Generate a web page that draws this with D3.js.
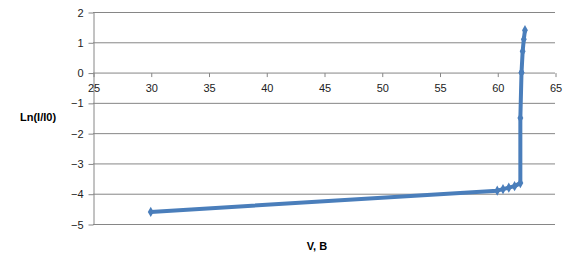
<!DOCTYPE html>
<meta charset="utf-8">
<style>
body { margin: 0; background: #fff; }
text { font-family: "Liberation Sans", Arial, sans-serif; font-size: 11px; fill: #222; }
.grid line { stroke: #868686; stroke-width: 1; }
.title { font-weight: bold; fill: #000; }
</style>
<svg width="574" height="273"></svg>
<script src="https://d3js.org/d3.v7.min.js"></script>
<script>
// voltage (V) and ln(I/I0) values
var volts = [30, 60, 60.5, 61, 61.5, 62, 62, 62.1, 62.1, 62.2, 62.3, 62.4];
var lnI   = [-4.6, -3.9, -3.85, -3.8, -3.75, -3.65, -1.5, -0.0, 0.0, 0.7, 1.1, 1.4];
var xTicks = [25, 30, 35, 40, 45, 50, 55, 60, 65];
var yTicks = [2, 1, 0, -1, -2, -3, -4, -5];

var svg = d3.select("svg");

var x = d3.scaleLinear().domain([25, 65]).range([93, 555]),
    y = d3.scaleLinear().domain([-5, 2]).range([224, 12]);

/* horizontal gridlines */
svg.append("g").attr("class", "grid")
  .selectAll("line").data(yTicks).enter().append("line")
    .attr("x1", x(25)).attr("x2", x(65))
    .attr("y1", function(d) { return y(d) + 0.5; })
    .attr("y2", function(d) { return y(d) + 0.5; });

/* y axis */
var yAxis = svg.append("g")
    .attr("transform", "translate(" + (x(25) + 0.5) + ",0.5)")
    .call(d3.axisLeft(y).tickValues(yTicks).tickSize(5).tickSizeOuter(0).tickFormat(d3.format("d")));
yAxis.selectAll("path, line").attr("stroke", "#868686");
yAxis.selectAll("text").attr("dx", "-2").style("font-size", "11px").attr("fill", "#222");

/* x axis crossing at 0 */
var xAxis = svg.append("g")
    .attr("transform", "translate(0.5," + (y(0) + 0.5) + ")")
    .call(d3.axisBottom(x).tickValues(xTicks).tickSize(4).tickSizeOuter(0));
xAxis.select(".domain").remove();
xAxis.selectAll("line").attr("stroke", "#868686");
xAxis.selectAll("text").attr("dy", "1.05em").style("font-size", "11px").attr("fill", "#222");

/* series */
var pts = volts.map(function(v, i) { return [v, lnI[i]]; });

svg.append("path")
    .datum(pts)
    .attr("fill", "none")
    .attr("stroke", "#4a7ebb")
    .attr("stroke-width", 4)
    .attr("stroke-linejoin", "round")
    .attr("d", d3.line().x(function(d) { return x(d[0]); }).y(function(d) { return y(d[1]); }));

svg.selectAll(".pt").data(pts).enter().append("path")
    .attr("class", "pt")
    .attr("fill", "#4a7ebb")
    .attr("transform", function(d) { return "translate(" + x(d[0]) + "," + y(d[1]) + ")"; })
    .attr("d", d3.symbol().type(d3.symbolDiamond).size(30));

/* axis titles */
svg.append("text").attr("class", "title")
    .attr("x", 20).attr("y", 121)
    .text("Ln(I/I0)");
svg.append("text").attr("class", "title")
    .attr("x", 317).attr("y", 250).attr("text-anchor", "middle")
    .text("V, B");
</script>
